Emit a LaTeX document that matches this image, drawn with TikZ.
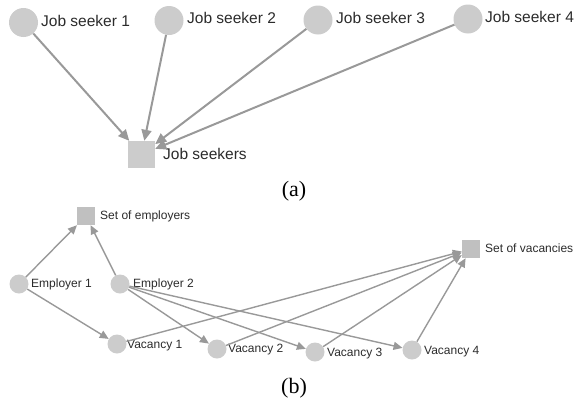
\documentclass[tikz,border=0pt]{standalone}
\usepackage{fontspec}
\setmainfont{Liberation Serif}
\setsansfont{Liberation Sans}
\usepackage{tikz}
\usetikzlibrary{arrows.meta}
\definecolor{nodegray}{HTML}{CCCCCC}
\definecolor{setgray}{HTML}{C0C0C0}
\definecolor{edgegray}{HTML}{999999}
\definecolor{textgray}{HTML}{2B2B2B}

\begin{document}
\begin{tikzpicture}[x=1pt,y=-1pt,
  seeker/.style={circle,fill=nodegray,minimum size=29pt,inner sep=0pt},
  seekset/.style={rectangle,fill=nodegray,minimum size=27pt,inner sep=0pt},
  smallnode/.style={circle,fill=nodegray,minimum size=19pt,inner sep=0pt},
  smallset/.style={rectangle,fill=setgray,minimum size=18pt,inner sep=0pt},
  biglbl/.style={anchor=west,inner sep=0pt,text=textgray,text height=0.72em,text depth=0pt,
    font=\sffamily\fontsize{15.5}{18}\selectfont},
  smalllbl/.style={anchor=west,inner sep=0pt,text=textgray,text height=0.72em,text depth=0pt,
    font=\sffamily\fontsize{12}{14}\selectfont},
  caption/.style={inner sep=0pt,font=\rmfamily\fontsize{22}{24}\selectfont},
  bigedge/.style={draw=edgegray,line width=2pt,-{Triangle[length=11pt,width=10pt]}},
  smalledge/.style={draw=edgegray,line width=1.4pt,-{Triangle[length=9pt,width=8pt]}}]
\useasboundingbox (0,0) rectangle (577,399);

% (a) job seekers
\node[seeker] (js1) at (23.5,22.5) {};
\node[seeker] (js2) at (169,20.5) {};
\node[seeker] (js3) at (318,20) {};
\node[seeker] (js4) at (468,19) {};
\node[seekset] (seekers) at (141.5,154.5) {};
\node[biglbl] (js1l) at (41,23) {Job seeker 1};
\node[biglbl] (js2l) at (187,20) {Job seeker 2};
\node[biglbl] (js3l) at (336,20) {Job seeker 3};
\node[biglbl] (js4l) at (485,19) {Job seeker 4};
\node[biglbl] (seekersl) at (163,156) {Job seekers};
\foreach \s in {js1,js2,js3,js4}
  \draw[bigedge] (\s) -- (seekers);
\node[caption] (capa) at (294,191) {(a)};

% (b) employers and vacancies
\node[smallset] (emps) at (86,216) {};
\node[smallset] (vacs) at (471,249) {};
\node[smallnode] (emp1) at (19,284) {};
\node[smallnode] (emp2) at (120,284) {};
\node[smallnode] (vac1) at (117,344) {};
\node[smallnode] (vac2) at (217,349) {};
\node[smallnode] (vac3) at (315,352) {};
\node[smallnode] (vac4) at (412,350) {};
\node[smalllbl] (empsl) at (100,216) {Set of employers};
\node[smalllbl] (vacsl) at (485,249) {Set of vacancies};
\node[smalllbl] (emp1l) at (31,284) {Employer 1};
\node[smalllbl] (emp2l) at (133,284) {Employer 2};
\node[smalllbl] (vac1l) at (127,345) {Vacancy 1};
\node[smalllbl] (vac2l) at (228,349) {Vacancy 2};
\node[smalllbl] (vac3l) at (327,353) {Vacancy 3};
\node[smalllbl] (vac4l) at (424,351) {Vacancy 4};
\draw[smalledge] (emp1) -- (emps);
\draw[smalledge] (emp2) -- (emps);
\draw[smalledge] (emp1) -- (vac1);
\foreach \v in {vac2,vac3,vac4}
  \draw[smalledge] (emp2) -- (\v);
\foreach \v in {vac1,vac2,vac3,vac4}
  \draw[smalledge] (\v) -- (vacs);
\node[caption] (capb) at (294,388) {(b)};

\end{tikzpicture}
\end{document}
